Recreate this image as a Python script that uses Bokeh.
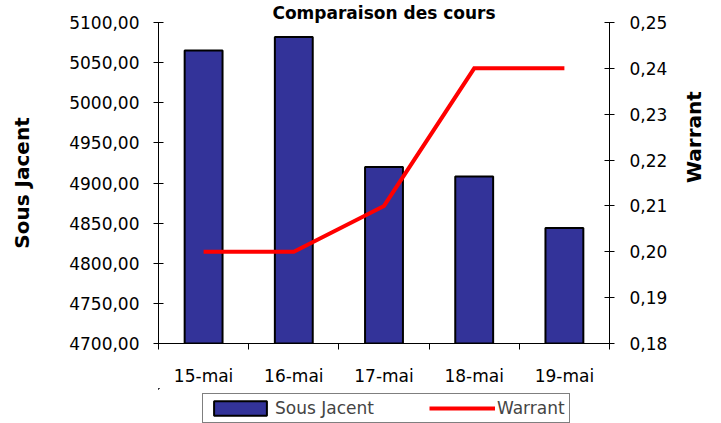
import math
from bokeh.plotting import figure
from bokeh.layouts import column
from bokeh.models import (Range1d, LinearAxis, FixedTicker, Title,
                          CustomJSTickFormatter, Legend, LegendItem)
from bokeh.embed import file_html
from bokeh.resources import INLINE

# ---- data ----
title_text = "Comparaison des cours"
categories = ["15-mai", "16-mai", "17-mai", "18-mai", "19-mai"]
sous_jacent = [5065, 5082, 4920, 4908, 4844]
warrant = [0.20, 0.20, 0.21, 0.24, 0.24]
left_ticks = [4700, 4750, 4800, 4850, 4900, 4950, 5000, 5050, 5100]
right_ticks = [0.18, 0.19, 0.20, 0.21, 0.22, 0.23, 0.24, 0.25]
left_title = "Sous Jacent"
right_title = "Warrant"

FONT = "DejaVu Sans"
TICK_SIZE = "17px"
BAR_STYLE = dict(fill_color="#333399", line_color="black", line_width=2)
LINE_STYLE = dict(line_color="#FF0000", line_width=4, line_join="miter")

xpos = list(range(len(categories)))
bounds = [i - 0.5 for i in range(len(categories) + 1)]

p = figure(width=721, height=388,
           x_range=Range1d(bounds[0], bounds[-1]),
           y_range=Range1d(left_ticks[0], left_ticks[-1]),
           output_backend="svg", toolbar_location=None,
           x_axis_location=None, y_axis_location=None,
           min_border_left=158, min_border_right=111,
           min_border_top=20, min_border_bottom=44)
p.extra_y_ranges = {"warrant": Range1d(right_ticks[0], right_ticks[-1])}
p.grid.visible = False
p.outline_line_color = None
p.background_fill_alpha = 0
p.border_fill_alpha = 0

p.title = Title(text=title_text, align="center", text_font=FONT, text_font_style="bold",
                text_font_size="17px", text_color="black", standoff=0)

fmt = CustomJSTickFormatter(code="return tick.toFixed(2).replace('.', ',');")

yl = LinearAxis(ticker=FixedTicker(ticks=left_ticks), formatter=fmt,
                major_tick_in=5, major_tick_out=5, major_label_standoff=14,
                major_label_text_font=FONT, major_label_text_font_size=TICK_SIZE,
                major_label_text_color="black", axis_line_color="black",
                major_tick_line_color="black",
                axis_label=left_title, axis_label_standoff=32,
                axis_label_text_font=FONT, axis_label_text_font_style="bold",
                axis_label_text_font_size="20px", axis_label_text_color="black")
p.add_layout(yl, "left")

yr = LinearAxis(y_range_name="warrant", ticker=FixedTicker(ticks=right_ticks), formatter=fmt,
                major_tick_in=5, major_tick_out=5, major_label_standoff=15,
                major_label_text_font=FONT, major_label_text_font_size=TICK_SIZE,
                major_label_text_color="black", axis_line_color="black",
                major_tick_line_color="black",
                axis_label=right_title, axis_label_standoff=24,
                axis_label_text_font=FONT, axis_label_text_font_style="bold",
                axis_label_text_font_size="20px", axis_label_text_color="black")
if "axis_label_orientation" in yr.properties():
    yr.axis_label_orientation = math.pi / 2
p.add_layout(yr, "right")

xfmt = CustomJSTickFormatter(args=dict(labels=categories),
                             code="const i = Math.round(tick); return (i >= 0 && i < labels.length) ? labels[i] : '';")
xa = LinearAxis(ticker=FixedTicker(ticks=xpos, minor_ticks=bounds), formatter=xfmt,
                major_tick_in=0, major_tick_out=0, major_tick_line_color=None,
                minor_tick_in=0, minor_tick_out=6, minor_tick_line_color="black",
                major_label_standoff=16, major_label_text_font=FONT,
                major_label_text_font_size=TICK_SIZE, major_label_text_color="black",
                axis_line_color="black")
p.add_layout(xa, "below")

p.vbar(x=xpos, top=sous_jacent, bottom=left_ticks[0], width=0.42, **BAR_STYLE)
p.line(x=xpos, y=warrant, y_range_name="warrant", **LINE_STYLE)

# legend strip below the chart: same series and styles, data kept out of its view
lg = figure(width=721, height=35,
            x_range=Range1d(bounds[-1] + 10, bounds[-1] + 11), y_range=Range1d(0, 1),
            output_backend="svg", toolbar_location=None,
            x_axis_location=None, y_axis_location=None,
            min_border_left=0, min_border_right=0, min_border_top=0, min_border_bottom=0)
lg.grid.visible = False
lg.outline_line_color = None
lg.background_fill_alpha = 0
lg.border_fill_alpha = 0
leg_bar = lg.vbar(x=xpos, top=sous_jacent, bottom=left_ticks[0], width=0.42, **BAR_STYLE)
leg_line = lg.line(x=xpos, y=warrant, **LINE_STYLE)

legend = Legend(items=[LegendItem(label=left_title, renderers=[leg_bar]),
                       LegendItem(label=right_title, renderers=[leg_line])],
                orientation="horizontal", location=(44, 0), padding=4, spacing=55,
                glyph_width=66, glyph_height=18, label_standoff=2, margin=0,
                label_text_font=FONT, label_text_font_size=TICK_SIZE,
                border_line_color="black", border_line_width=1,
                background_fill_color="white", background_fill_alpha=1)
lg.add_layout(legend)

layout = column(p, lg, spacing=0)
open("out.html", "w").write(file_html(layout, INLINE))
